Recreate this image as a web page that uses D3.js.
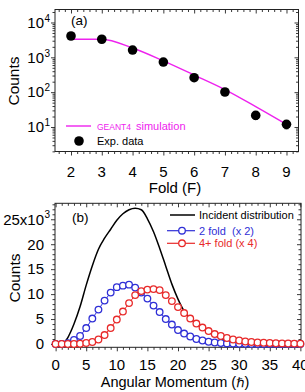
<!DOCTYPE html>
<html><head><meta charset="utf-8">
<script src="https://cdn.jsdelivr.net/npm/d3@7"></script>
<style>
body{margin:0;background:#fff;}
svg{display:block;font-family:"Liberation Sans",Arial,sans-serif;}
</style></head>
<body><svg id="c" width="305" height="392"></svg>
<script>
// ---- Panel (a) data ----
const folds = [2,3,4,5,6,7,8,9];
const expCounts = [4090,3300,1620,733,260,101,21.5,11.9];
const expErr = [0,0,0,0,0,0,5,3];
const simCounts = [3290,3290,1850,790,310,119,38.5,11.9];
const foldTicks = [2,3,4,5,6,7,8,9];
const logTicks = [1,2,3,4];

// ---- Panel (b) data ----
const Jvals = d3.range(0,41);
const twoFold = [0,0,0.15,0.8,1.6,3.2,5.1,6.9,8.7,10.3,11.4,11.7,11.9,11.3,10.3,9.1,7.7,6.4,5.0,3.9,2.8,2.1,1.5,1.0,0.7,0.45,0.3,0.2,0.12,0.08,0.05,0.03,0.02,0.01,0,0,0,0,0,0,0];
const fourFold = [0,0,0,0,0.05,0.2,0.4,0.9,1.8,3.2,4.9,6.5,8.2,9.8,10.6,10.9,11.0,10.8,9.8,8.6,7.4,6.2,5.1,4.1,3.3,2.6,2.0,1.6,1.2,0.9,0.7,0.5,0.4,0.3,0.25,0.2,0.15,0.12,0.1,0.08,0.06];
const incJ = [1.2,2,3,4,5,6,7,8,9,10,11,12,13,14,15,16,17,18,19,20,21,22,23,24,25,26,27,28,29,30];
const incVals = [0,1.3,4.0,7.5,11.8,15.7,19.0,21.2,23.0,24.8,26.1,26.9,27.2,26.9,25.1,22.5,19.2,15.6,12.0,9.0,6.6,5.1,4.0,3.2,2.4,1.7,1.1,0.5,0.2,0];
const bYTicks = [0,5,10,15,20,25];
const bXTicks = [0,5,10,15,20,25,30,35,40];

const MAG = "#ee22ee", BLUE = "#2f2fd6", RED = "#e82a2a", FR = "#222";
const svg = d3.select("#c");

// ================= Panel (a) =================
const ax = d3.scaleLinear().domain([1.48,9.39]).range([55,298.5]);
const ay = d3.scaleLog().domain([1.98,23600]).range([151.5,9.5]);
const ga = svg.append("g");

const minorX = d3.range(1.6,9.4,0.2).filter(v=>Math.abs(v-Math.round(v))>1e-6);
const minorLog = [];
[0,1,2,3,4].forEach(d=>{for(let k=2;k<=9;k++){const v=k*Math.pow(10,d); if(v>1.98&&v<23600) minorLog.push(v);}});

function ticks(g, axisFn, scale, vals, size, tr){
  g.append("g").attr("transform",tr).call(axisFn(scale).tickValues(vals).tickSize(size).tickFormat(""))
   .call(s=>{s.select(".domain").remove(); s.selectAll("line").attr("stroke",FR).attr("stroke-width",0.9);});
}
ticks(ga,d3.axisBottom,ax,foldTicks,4,"translate(0,151.5)");
ticks(ga,d3.axisBottom,ax,minorX,2.5,"translate(0,151.5)");
ticks(ga,d3.axisBottom,ax,foldTicks,4,"translate(0,9.5)");
ticks(ga,d3.axisBottom,ax,minorX,2.5,"translate(0,9.5)");
ticks(ga,d3.axisLeft,ay,logTicks.map(d=>Math.pow(10,d)),4,"translate(55,0)");
ticks(ga,d3.axisLeft,ay,minorLog,2.5,"translate(55,0)");
ticks(ga,d3.axisLeft,ay,logTicks.map(d=>Math.pow(10,d)),4,"translate(298.5,0)");
ticks(ga,d3.axisLeft,ay,minorLog,2.5,"translate(298.5,0)");

ga.append("rect").attr("x",55).attr("y",9.5).attr("width",243.5).attr("height",142)
  .attr("fill","none").attr("stroke",FR).attr("stroke-width",1);

ga.selectAll(".xl").data(foldTicks).join("text").attr("x",d=>ax(d)).attr("y",177)
  .attr("text-anchor","middle").attr("font-size",15).text(d=>d);
logTicks.forEach(p=>{
  const ty = ay(Math.pow(10,p));
  ga.append("text").attr("x",44).attr("y",ty+5.3).attr("text-anchor","end").attr("font-size",15).text("10");
  ga.append("text").attr("x",44.5).attr("y",ty-0.8).attr("font-size",10).text(p);
});
ga.append("text").attr("transform","translate(19,81) rotate(-90)").attr("text-anchor","middle")
  .attr("font-size",15.5).text("Counts");
ga.append("text").attr("x",175).attr("y",193).attr("text-anchor","middle").attr("font-size",15).text("Fold (F)");
ga.append("text").attr("x",71).attr("y",25).attr("font-size",13.5).text("(a)");

ga.append("path").datum(folds.map((f,i)=>[f,simCounts[i]]))
  .attr("d",d3.line().x(d=>ax(d[0])).y(d=>ay(d[1])).curve(d3.curveMonotoneX))
  .attr("fill","none").attr("stroke",MAG).attr("stroke-width",1.4);
folds.forEach((f,i)=>{
  if(expErr[i]>0){
    ga.append("line").attr("x1",ax(f)).attr("x2",ax(f)).attr("y1",ay(expCounts[i]+expErr[i])).attr("y2",ay(expCounts[i]-expErr[i]))
      .attr("stroke","#000").attr("stroke-width",1.2);
    [expCounts[i]+expErr[i],expCounts[i]-expErr[i]].forEach(v=>{
      ga.append("line").attr("x1",ax(f)-2).attr("x2",ax(f)+2).attr("y1",ay(v)).attr("y2",ay(v)).attr("stroke","#000").attr("stroke-width",1);
    });
  }
});
ga.selectAll(".dot").data(folds).join("circle").attr("cx",d=>ax(d)).attr("cy",(d,i)=>ay(expCounts[i]))
  .attr("r",4.8).attr("fill","#000");

ga.append("line").attr("x1",66).attr("x2",91).attr("y1",126).attr("y2",126).attr("stroke",MAG).attr("stroke-width",1.4);
ga.append("text").attr("x",97).attr("y",129.5).attr("font-size",8.5).attr("fill",MAG).text("GEANT4");
ga.append("text").attr("x",136).attr("y",129.5).attr("font-size",11).attr("fill",MAG).text("simulation");
ga.append("circle").attr("cx",79).attr("cy",141).attr("r",4.8).attr("fill","#000");
ga.append("text").attr("x",97).attr("y",145).attr("font-size",11).attr("fill","#000").text("Exp. data");

// ================= Panel (b) =================
const bx = d3.scaleLinear().domain([-0.1,40.1]).range([55,301]);
const by = d3.scaleLinear().domain([-0.66,28.2]).range([347.3,203.3]);
const gb = svg.append("g");
const bMinX = d3.range(0,41).filter(v=>v%5!==0);
const bMinY = d3.range(0,29).filter(v=>v%5!==0);
ticks(gb,d3.axisBottom,bx,bXTicks,4,"translate(0,347.3)");
ticks(gb,d3.axisBottom,bx,bMinX,2.5,"translate(0,347.3)");
ticks(gb,d3.axisBottom,bx,bXTicks,4,"translate(0,203.3)");
ticks(gb,d3.axisBottom,bx,bMinX,2.5,"translate(0,203.3)");
ticks(gb,d3.axisLeft,by,bYTicks,4,"translate(55,0)");
ticks(gb,d3.axisLeft,by,bMinY,2.5,"translate(55,0)");
ticks(gb,d3.axisLeft,by,bYTicks,4,"translate(301,0)");
ticks(gb,d3.axisLeft,by,bMinY,2.5,"translate(301,0)");
gb.append("rect").attr("x",55).attr("y",203.3).attr("width",246).attr("height",144)
  .attr("fill","none").attr("stroke",FR).attr("stroke-width",1);

gb.selectAll(".xl").data(bXTicks).join("text").attr("x",d=>bx(d)).attr("y",370)
  .attr("text-anchor","middle").attr("font-size",15).text(d=>d);
bYTicks.forEach(v=>{
  const ty = by(v);
  gb.append("text").attr("x",44).attr("y",ty+5.3).attr("text-anchor","end").attr("font-size",15).text(v===25?"25x10":v);
  if(v===25) gb.append("text").attr("x",44.5).attr("y",ty-0.8).attr("font-size",10).text("3");
});
gb.append("text").attr("transform","translate(20,278) rotate(-90)").attr("text-anchor","middle")
  .attr("font-size",15.5).text("Counts");
const t = gb.append("text").attr("x",175).attr("y",387).attr("text-anchor","middle").attr("font-size",14.5);
t.append("tspan").text("Angular Momentum (");
t.append("tspan").attr("font-style","italic").attr("font-family","DejaVu Sans").attr("font-size",13).text("ℏ");
t.append("tspan").text(")");
gb.append("text").attr("x",72).attr("y",222).attr("font-size",13.5).text("(b)");

gb.append("path").datum(incJ.map((j,i)=>[j,incVals[i]]))
  .attr("d",d3.line().x(d=>bx(d[0])).y(d=>by(d[1])).curve(d3.curveMonotoneX))
  .attr("fill","none").attr("stroke","#000").attr("stroke-width",1.5);

function series(vals,color){
  const pts = Jvals.map((j,i)=>[j,vals[i]]);
  gb.append("path").datum(pts).attr("d",d3.line().x(d=>bx(d[0])).y(d=>by(d[1])))
    .attr("fill","none").attr("stroke",color).attr("stroke-width",1);
  gb.append("g").selectAll("circle").data(pts).join("circle")
    .attr("cx",d=>bx(d[0])).attr("cy",d=>by(d[1])).attr("r",3.3)
    .attr("fill","#fff").attr("stroke",color).attr("stroke-width",1.3);
}
series(twoFold,BLUE);
series(fourFold,RED);

const leg = [["Incident distribution","#000",false,215],["2 fold  (x 2)",BLUE,true,230.7],["4+ fold (x 4)",RED,true,243.3]];
leg.forEach(([txt,col,mk,yy])=>{
  gb.append("line").attr("x1",mk?167:170).attr("x2",195).attr("y1",yy).attr("y2",yy).attr("stroke",col).attr("stroke-width",mk?1.2:1.5);
  if(mk) gb.append("circle").attr("cx",182).attr("cy",yy).attr("r",3.3).attr("fill","#fff").attr("stroke",col).attr("stroke-width",1.3);
  gb.append("text").attr("x",199).attr("y",yy+4).attr("font-size",11).attr("fill",col).attr("xml:space","preserve").text(txt);
});
</script></body></html>
